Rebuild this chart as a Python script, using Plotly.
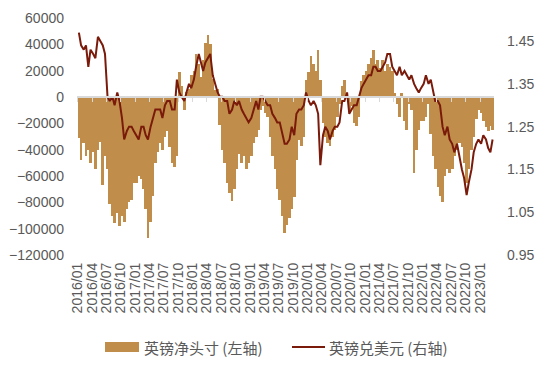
import pandas as pd
import plotly.graph_objects as go

# Semi-monthly observations, Jan 2016 – Mar 2023
net_pos = [
    # 2016
    -31000, -48000, -35000, -45000, -40000, -50000, -42000, -55000, -40000, -34000, -67000, -45000,
    -55000, -81000, -90000, -96000, -88000, -98000, -90000, -95000, -85000, -80000, -78000, -65000,
    # 2017
    -65000, -60000, -62000, -70000, -85000, -107000, -95000, -75000, -50000, -42000, -35000, -40000,
    -30000, -26000, -38000, -50000, -53000, -45000, 19000, 8000, -10000, 4000, 6000, 17000,
    # 2018
    20000, 33000, 25000, 15000, 28000, 41000, 47000, 40000, 14000, 5000, 6000, -21000,
    -40000, -50000, -65000, -73000, -79000, -70000, -55000, -43000, -50000, -45000, -55000, -50000,
    # 2019
    -45000, -35000, -30000, -25000, -10000, -7000, -12000, -15000, -30000, -45000, -55000, -70000,
    -78000, -90000, -103000, -97000, -92000, -85000, -76000, -48000, -33000, -37000, -30000, 13000,
    # 2020
    19000, 31000, 25000, 20000, 36000, 13000, -20000, -30000, -35000, -37000, -30000, -25000,
    -15000, -5000, 8000, 13000, 3000, -10000, -7000, -20000, -22000, -15000, 12000, 17000,
    # 2021
    20000, 25000, 30000, 36000, 25000, 28000, 22000, 28000, 20000, 25000, 23000, 20000,
    3000, -5000, -15000, 3000, -18000, -25000, -5000, -10000, -58000, -40000, -25000, -18000,
    # 2022
    -18000, -15000, -5000, -28000, -45000, -55000, -68000, -75000, -80000, -60000, -55000, -58000,
    -55000, -45000, -40000, -35000, -38000, -50000, -65000, -55000, -40000, -30000, -17000, -10000,
    # 2023
    -12000, -18000, -23000, -26000, -22000, -25000,
]

gbpusd = [
    # 2016
    1.47, 1.44, 1.43, 1.44, 1.39, 1.43, 1.42, 1.41, 1.46, 1.45, 1.44, 1.42,
    1.32, 1.31, 1.32, 1.30, 1.33, 1.31, 1.27, 1.22, 1.24, 1.25, 1.25, 1.24,
    # 2017
    1.23, 1.22, 1.25, 1.25, 1.23, 1.22, 1.25, 1.27, 1.29, 1.29, 1.29, 1.27,
    1.30, 1.31, 1.31, 1.29, 1.29, 1.36, 1.33, 1.32, 1.31, 1.33, 1.35, 1.34,
    # 2018
    1.36, 1.39, 1.42, 1.40, 1.38, 1.40, 1.41, 1.42, 1.37, 1.35, 1.33, 1.32,
    1.32, 1.31, 1.31, 1.28, 1.29, 1.31, 1.30, 1.31, 1.29, 1.28, 1.27, 1.26,
    # 2019
    1.27, 1.29, 1.31, 1.29, 1.32, 1.32, 1.31, 1.30, 1.30, 1.28, 1.27, 1.26,
    1.26, 1.24, 1.21, 1.21, 1.22, 1.25, 1.23, 1.28, 1.29, 1.29, 1.30, 1.33,
    # 2020
    1.31, 1.30, 1.31, 1.30, 1.28, 1.16, 1.23, 1.25, 1.24, 1.22, 1.24, 1.25,
    1.25, 1.26, 1.31, 1.31, 1.33, 1.28, 1.29, 1.30, 1.30, 1.32, 1.34, 1.35,
    # 2021
    1.36, 1.37, 1.37, 1.39, 1.39, 1.38, 1.38, 1.39, 1.40, 1.42, 1.42, 1.39,
    1.38, 1.37, 1.39, 1.37, 1.38, 1.37, 1.36, 1.37, 1.35, 1.34, 1.33, 1.34,
    # 2022
    1.35, 1.37, 1.35, 1.36, 1.33, 1.31, 1.31, 1.30, 1.25, 1.23, 1.25, 1.22,
    1.21, 1.19, 1.21, 1.18, 1.15, 1.13, 1.09, 1.12, 1.15, 1.19, 1.21, 1.22,
    # 2023
    1.21, 1.23, 1.22, 1.20, 1.19, 1.22,
]

series_names = ["英镑净头寸 (左轴)", "英镑兑美元 (右轴)"]

dates = pd.date_range(start="2016-01-01", periods=len(net_pos), freq="SMS") + pd.Timedelta(days=7)

BAR_COLOR = "#C08E4A"
LINE_COLOR = "#7A1A0A"
TXT = "#595959"
AXIS_GREY = "#D9D9D9"
DAY_MS = 86400000

fig = go.Figure()
fig.add_trace(go.Bar(
    x=dates, y=net_pos, name=series_names[0],
    marker=dict(color=BAR_COLOR, line=dict(width=0)),
    width=17 * DAY_MS, xaxis="x", yaxis="y", showlegend=False,
))
fig.add_trace(go.Scatter(
    x=dates, y=gbpusd, name=series_names[1], mode="lines",
    line=dict(color=LINE_COLOR, width=2), xaxis="x2", yaxis="y2", showlegend=False,
))

xrange = ["2015-12-27", "2023-03-31"]
tickfont = dict(family="Liberation Sans, Arial, sans-serif", size=14, color=TXT)

# page body has an 8px default margin; figure is laid out in its own coordinates
OFF = 8
W, H = 550 - OFF, 374 - OFF
L, T = 77 - OFF, 18 - OFF
R = W - (494 - OFF)
B = H - (255 - OFF)
zero_frac = 120000 / 180000

fig.update_layout(
    width=W, height=H,
    margin=dict(l=L, r=R, t=T, b=B, autoexpand=False),
    paper_bgcolor="white", plot_bgcolor="white",
    bargap=0,
    xaxis=dict(
        type="date", range=xrange, tickformat="%Y/%m", dtick="M3", tick0="2016-01-01",
        tickangle=-90, showgrid=False, showline=False, ticks="", zeroline=False,
        tickfont=tickfont, ticklabelstandoff=4, automargin=False,
    ),
    xaxis2=dict(
        type="date", range=xrange, overlaying="x", anchor="free", position=zero_frac,
        dtick="M3", tick0="2016-01-01", showticklabels=False, showgrid=False,
        showline=True, linecolor=AXIS_GREY, linewidth=2, automargin=False,
        ticks="outside", ticklen=4, tickcolor=AXIS_GREY, tickwidth=1, zeroline=False,
    ),
    yaxis=dict(
        range=[-120000, 60000], dtick=20000, tick0=0, showgrid=False, zeroline=False,
        showline=False, tickfont=tickfont, tickformat="d", ticklabelstandoff=12,
        automargin=False,
    ),
    yaxis2=dict(
        range=[0.95, 1.504], overlaying="y", side="right", anchor="free", position=1,
        tickvals=[0.95, 1.05, 1.15, 1.25, 1.35, 1.45], tickformat=".2f",
        showgrid=False, zeroline=False, showline=False, tickfont=tickfont,
        ticklabelstandoff=12, automargin=False,
    ),
    hovermode=False,
)

# custom legend (swatches + labels) below the plot; inputs are page pixels
pw = W - L - R
ph = H - T - B
def px_x(px):
    return (px - OFF - L) / pw
def px_y(py):
    return (H - B - (py - OFF)) / ph

fig.add_shape(type="rect", xref="paper", yref="paper",
              x0=px_x(105), x1=px_x(139), y0=px_y(352), y1=px_y(342),
              fillcolor=BAR_COLOR, line=dict(width=0))
fig.add_shape(type="line", xref="paper", yref="paper",
              x0=px_x(292), x1=px_x(325), y0=px_y(347), y1=px_y(347),
              line=dict(color=LINE_COLOR, width=2))
legfont = dict(family="Noto Sans CJK SC, sans-serif", size=15, color=TXT)
fig.add_annotation(xref="paper", yref="paper", x=px_x(142), y=px_y(347),
                   text=series_names[0], showarrow=False, xanchor="left", yanchor="middle",
                   font=legfont)
fig.add_annotation(xref="paper", yref="paper", x=px_x(327), y=px_y(347),
                   text=series_names[1], showarrow=False, xanchor="left", yanchor="middle",
                   font=legfont)

fig.write_html("out.html")
